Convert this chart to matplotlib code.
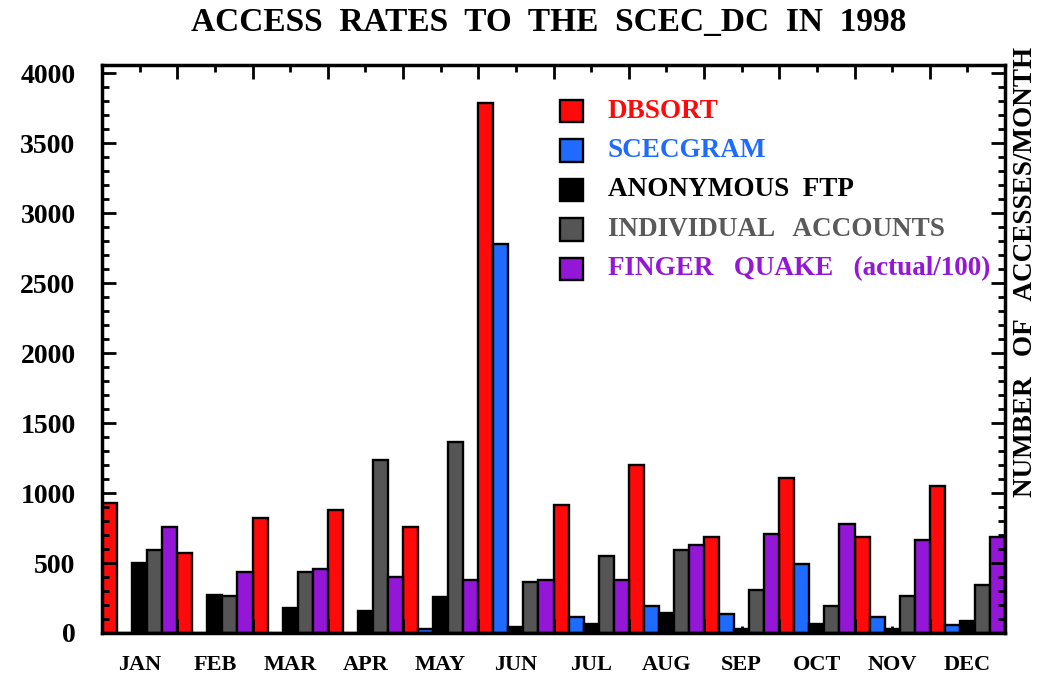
import numpy as np
import matplotlib
matplotlib.use("Agg")
from matplotlib import pyplot as plt
from matplotlib.patches import Rectangle

months = ["JAN", "FEB", "MAR", "APR", "MAY", "JUN",
          "JUL", "AUG", "SEP", "OCT", "NOV", "DEC"]

dbsort = [930, 570, 820, 880, 760, 3790, 915, 1200, 685, 1105, 685, 1050]
scecgram = [0, 0, 0, 0, 25, 2780, 115, 190, 135, 495, 115, 60]
anon_ftp = [500, 275, 180, 155, 257, 43, 64, 143, 28, 64, 28, 86]
individual = [595, 268, 436, 1238, 1368, 364, 552, 595, 309, 195, 266, 345]
finger_quake = [761, 436, 457, 400, 381, 381, 381, 631, 709, 781, 667, 686]

series = [dbsort, scecgram, anon_ftp, individual, finger_quake]
names = ["DBSORT", "SCECGRAM", "ANONYMOUS  FTP", "INDIVIDUAL   ACCOUNTS",
         "FINGER   QUAKE   (actual/100)"]
colors = ["#ff0a0a", "#1f6bff", "#000000", "#555555", "#9416d6"]
text_colors = ["#ff0a0a", "#1f6bff", "#000000", "#5a5a5a", "#9416d6"]

plt.rcParams['font.family'] = ['Liberation Serif', 'DejaVu Serif']
plt.rcParams['font.weight'] = 'bold'

fig = plt.figure(figsize=(10.43, 6.77), dpi=100)
ax = fig.add_axes([0.0978, 0.065, 0.8658, 0.839])

x = np.arange(len(months))
w = 0.2
for i, (vals, c) in enumerate(zip(series, colors)):
    ax.bar(x - 0.5 + w * (i + 0.5), vals, width=w, color=c,
           edgecolor="black", linewidth=1.7)

ax.set_xlim(-0.5, 11.5)
ax.set_ylim(0, 4060)

ax.set_yticks(np.arange(0, 4001, 500))
ax.set_yticks(np.arange(0, 4001, 100), minor=True)
ax.set_xticks(np.arange(-0.5, 11.6, 1.0))
ax.set_xticks(x, months, minor=True)

ax.tick_params(axis='y', which='both', direction='in', left=True, right=True,
               width=2, labelsize=20, pad=19)
ax.tick_params(axis='y', which='major', length=10)
ax.tick_params(axis='y', which='minor', length=5)
ax.tick_params(axis='x', which='both', direction='in', top=True, bottom=True,
               width=2, labelsize=16)
ax.tick_params(axis='x', which='major', length=10, labelbottom=False)
ax.tick_params(axis='x', which='minor', length=5, pad=15.5)

for s in ax.spines.values():
    s.set_linewidth(2.5)

# legend drawn by hand, square boxes with coloured labels
for i, (name, c, tc) in enumerate(zip(names, colors, text_colors)):
    yc = 0.919 - i * 0.0695
    ax.add_patch(Rectangle((0.507, yc - 0.02), 0.0255, 0.04,
                           transform=ax.transAxes, facecolor=c,
                           edgecolor="black", linewidth=1.7))
    ax.text(0.560, yc, name, transform=ax.transAxes, color=tc,
            fontsize=19.5, fontweight='bold', va='center', ha='left')

fig.text(0.526, 0.9675, "ACCESS  RATES  TO  THE  SCEC_DC  IN  1998",
         fontsize=24, fontweight='bold', ha='center', va='center')
fig.text(0.983, 0.598, "NUMBER   OF   ACCESSES/MONTH", rotation=90,
         fontsize=19.5, fontweight='bold', ha='center', va='center')

fig.savefig("out.png", dpi=100)
